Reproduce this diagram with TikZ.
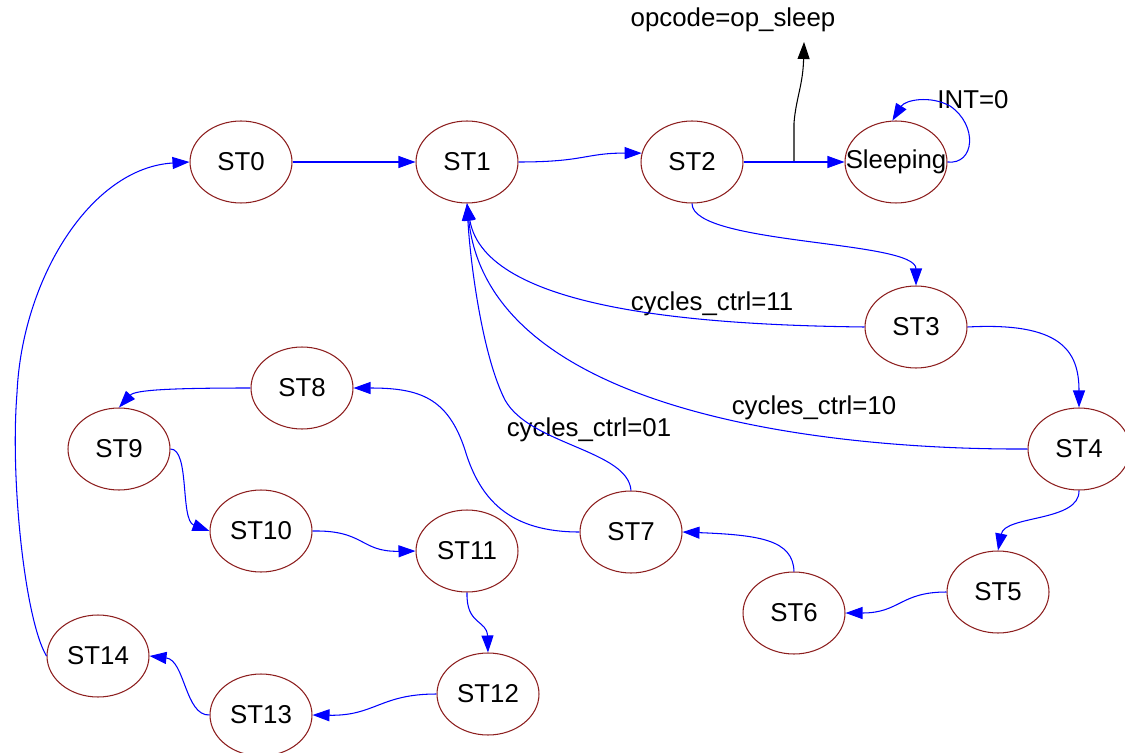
\documentclass[tikz,border=0pt]{standalone}
\usepackage{fontspec}
\setmainfont{Liberation Sans}
\usetikzlibrary{arrows.meta,shapes.geometric}
\definecolor{edgeblue}{RGB}{0,0,255}
\definecolor{stateborder}{RGB}{140,30,30}
\begin{document}
\begin{tikzpicture}[x=0.02cm,y=-0.02cm,
  state/.style={ellipse,draw=stateborder,line width=0.6pt,minimum width=2.04cm,
    minimum height=1.64cm,inner sep=0pt,font=\fontsize{14.7}{17}\selectfont},
  edge/.style={draw=edgeblue,line width=0.6pt,
    -{Triangle[length=0.34cm,width=0.24cm,fill=edgeblue]}},
  outedge/.style={draw=black,line width=0.6pt,
    -{Triangle[length=0.34cm,width=0.24cm,fill=black]}},
  lbl/.style={font=\fontsize{14.7}{17}\selectfont,inner sep=0pt}]
\useasboundingbox (0,0) rectangle (1125,753);

% states
\node[state] (st0)   at (241,162) {ST0};
\node[state] (st1)   at (467,162) {ST1};
\node[state] (st2)   at (692,162) {ST2};
\node[state] (sleep) at (896,162) {\makebox[0pt]{Sleeping}};
\node[state] (st3)   at (916,327) {ST3};
\node[state] (st4)   at (1079,449) {ST4};
\node[state] (st5)   at (998,592) {ST5};
\node[state] (st6)   at (794,613) {ST6};
\node[state] (st7)   at (631,532) {ST7};
\node[state] (st8)   at (302,388) {ST8};
\node[state] (st9)   at (119,449) {ST9};
\node[state] (st10)  at (261,531) {ST10};
\node[state] (st11)  at (467,551) {ST11};
\node[state] (st12)  at (488,694) {ST12};
\node[state] (st13)  at (261,715) {ST13};
\node[state] (st14)  at (98,656)  {ST14};

% transition labels
\node[lbl] (opl) at (733,20)  {opcode=op\_sleep};
\node[lbl] (intl) at (973,100) {INT=0};
\node[lbl] (c11) at (712,304) {cycles\_ctrl=11};
\node[lbl] (c10) at (814,408) {cycles\_ctrl=10};
\node[lbl] (c01) at (589,430) {cycles\_ctrl=01};

% output branch towards the opcode
\coordinate (br) at (794,162);
\coordinate (optip) at (804,42);
\draw[outedge] (br) -- (794,123) .. controls (796,98) and (803,85) .. (optip);

% top row
\draw[edge] (st0.east) -- (st1.west);
\draw[edge] (st1.east) .. controls (585,162) and (585,153) .. (st2.170);
\draw[edge] (st2.east) -- (sleep.west);
\draw[edge] (sleep.east) .. controls (975,165) and (978,125) .. (950,106)
            .. controls (930,95) and (905,100) .. (sleep.95);

% right side
\draw[edge] (st2.south) .. controls (692,245) and (916,240) .. (st3.north);
\draw[edge] (st3.east) .. controls (1060,322) and (1079,350) .. (st4.north);
\draw[edge] (st4.south) .. controls (1080,522) and (1005,515) .. (st5.north);
\draw[edge] (st5.west) .. controls (900,592) and (900,613) .. (st6.east);
\draw[edge] (st6.north) .. controls (793,540) and (760,535) .. (st7.east);

% returns to ST1
\draw[edge] (st3.west) .. controls (700,325) and (485,310) .. (st1.south);
\draw[edge] (st4.west) .. controls (850,450) and (490,420) .. (st1.south);
\draw[edge] (st7.north) .. controls (628,450) and (530,445) .. (505,400)
            .. controls (482,355) and (470,260) .. (st1.south);

% left loop
\draw[edge] (st7.west) .. controls (510,532) and (480,500) .. (465,450)
            .. controls (448,398) and (420,388) .. (st8.east);
\draw[edge] (st8.west) .. controls (170,388) and (135,390) .. (st9.north);
\draw[edge] (st9.east) .. controls (190,449) and (180,520) .. (st10.west);
\draw[edge] (st10.east) .. controls (365,530) and (360,552) .. (st11.west);
\draw[edge] (st11.south) .. controls (466,625) and (487,620) .. (st12.north);
\draw[edge] (st12.west) .. controls (380,694) and (375,716) .. (st13.east);
\draw[edge] (st13.west) .. controls (185,716) and (185,660) .. (st14.east);
\draw[edge] (st14.west) .. controls (25,620) and (10,480) .. (17,393)
            .. controls (22,280) and (90,168) .. (st0.west);
\end{tikzpicture}
\end{document}
